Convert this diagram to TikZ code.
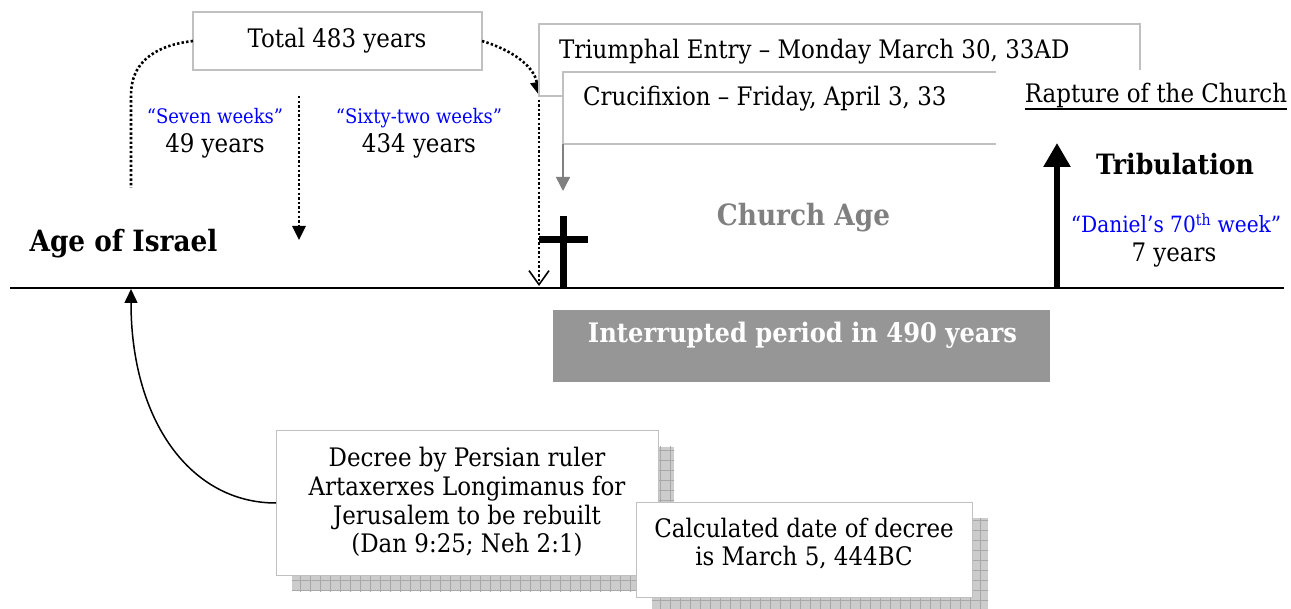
\documentclass[tikz,border=0pt]{standalone}
\usepackage{fontspec}
\setmainfont{DejaVu Serif}[FakeStretch=0.9]
\usetikzlibrary{arrows.meta}
\definecolor{boxgray}{RGB}{192,192,192}
\definecolor{blueq}{RGB}{0,0,255}
\definecolor{churchgray}{RGB}{128,128,128}
\definecolor{bargray}{RGB}{150,150,150}
\definecolor{shadegray}{RGB}{204,204,204}
\definecolor{gridgray}{RGB}{168,168,168}
\begin{document}
\begin{tikzpicture}[x=1pt,y=-1pt,
  maintxt/.style={font=\fontsize{25.5}{30}\selectfont, inner sep=0pt, outer sep=0pt, anchor=base},
  quotetxt/.style={font=\fontsize{20}{24}\selectfont, text=blueq, inner sep=0pt, outer sep=0pt, anchor=base},
  boldtxt/.style={font=\fontsize{29.3}{34}\selectfont\bfseries, inner sep=0pt, outer sep=0pt, anchor=base},
  dotln/.style={line width=2.6pt, dash pattern=on 2.4pt off 2.2pt},
  grayframe/.style={draw=boxgray, line width=1.5pt, fill=white, inner sep=0pt, outer sep=0pt, anchor=north west},
  shadowbox/.style={fill=shadegray, draw=none, inner sep=0pt, outer sep=0pt, anchor=north west},
  headtri/.style={-{Triangle[length=14pt,width=13pt]}}
]
\useasboundingbox (0,0) rectangle (1291,609);

% timeline
\coordinate (tlL) at (10,288);
\coordinate (tlR) at (1284,288);
\draw[line width=2pt] (tlL) -- (tlR);

% Total box
\node[grayframe, minimum width=289pt, minimum height=58pt] (total) at (193,12) {};
\node[maintxt] (totaltxt) at (337,48) {Total 483 years};

% left dotted bracket
\coordinate (lbot) at (131,188);
\draw[dotln] (total.west) .. controls (150,46) and (131,66) .. (131,95) -- (lbot);

% right dotted arrow
\coordinate (rtop) at (539,95);
\coordinate (rbot) at (539,286);
\draw[dotln, -{Triangle[length=13pt,width=13pt]}] (total.east) .. controls (512,50) and (534,66) .. (rtop);
\draw[dotln, -{Straight Barb[length=14pt,width=20pt,line width=1.6pt]}] (rtop) -- (rbot);

% middle dotted arrow
\coordinate (mtop) at (299,96);
\coordinate (mbot) at (299,240);
\draw[dotln, headtri] (mtop) -- (mbot);

% labels
\node[quotetxt] (seven) at (215,124) {“Seven weeks”};
\node[maintxt] (fortynine) at (215,153) {49 years};
\node[quotetxt] (sixty) at (419,124) {“Sixty-two weeks”};
\node[maintxt] (fourthree) at (419,153) {434 years};
\node[boldtxt] (israel) at (123.5,252) {Age of Israel};

% Triumphal & Crucifixion boxes
\node[grayframe, minimum width=601pt, minimum height=72pt] (triumph) at (539,24) {};
\node[grayframe, minimum width=447pt, minimum height=72pt] (cruc) at (563,72) {};
\fill[white] (996,70) rectangle (1291,152);
\node[maintxt, anchor=base west] (triumphtxt) at (559,59) {Triumphal Entry – Monday March 30, 33AD};
\node[maintxt, anchor=base west] (cructxt) at (583,106) {Crucifixion – Friday, April 3, 33};

% gray arrow to cross
\coordinate (crossarr) at (563,191);
\draw[churchgray, line width=1.5pt, -{Triangle[length=14pt,width=14pt]}] (cruc.south west) -- (crossarr);

% cross
\coordinate (crosstop) at (563,216);
\coordinate (crossbot) at (563,288);
\coordinate (crossl) at (539,240);
\coordinate (crossr) at (588,240);
\draw[line width=7pt] (crosstop) -- (crossbot);
\draw[line width=7pt] (crossl) -- (crossr);

\node[boldtxt, text=churchgray] (church) at (803.5,226) {Church Age};

% Rapture
\node[maintxt] (rapture) at (1156,103) {Rapture of the Church};
\draw[line width=1.6pt] ([yshift=-6pt]rapture.base west) -- ([yshift=-6pt]rapture.base east);

% up arrow
\coordinate (upbot) at (1057,288);
\coordinate (uptop) at (1057,143);
\draw[line width=5.5pt, -{Triangle[length=24pt,width=26pt]}] (upbot) -- (uptop);

\node[boldtxt, font=\fontsize{28}{32}\selectfont\bfseries] (trib) at (1175,175) {Tribulation};
\node[quotetxt, font=\fontsize{22.4}{26}\selectfont] (daniel) at (1176,233) {“Daniel’s 70\textsuperscript{th} week”};
\node[maintxt] (seven2) at (1174,262) {7 years};

% interrupted bar
\node[fill=bargray, inner sep=0pt, outer sep=0pt, anchor=north west, minimum width=497pt, minimum height=72pt] (interbar) at (553,310) {};
\node[font=\fontsize{26.9}{31}\selectfont\bfseries, text=white, inner sep=0pt, anchor=base] (intertxt) at (802.5,343) {Interrupted period in 490 years};

% Decree box with shadow
\node[shadowbox, minimum width=382pt, minimum height=144pt] (decsh) at (292,447) {};
\begin{scope}
\clip (292,447) rectangle (674,591);
\draw[gridgray, line width=0.6pt, step=10pt] (290,440) grid (680,600);
\end{scope}
\node[grayframe, line width=1pt, minimum width=382pt, minimum height=144pt] (decree) at (276,431) {};
\node[maintxt] (d1) at (467,467) {Decree by Persian ruler};
\node[maintxt] (d2) at (467,495.5) {Artaxerxes Longimanus for};
\node[maintxt] (d3) at (467,524) {Jerusalem to be rebuilt};
\node[maintxt] (d4) at (467,552.5) {(Dan 9:25; Neh 2:1)};

% Calculated box with shadow
\node[shadowbox, minimum width=336pt, minimum height=95pt] (calcsh) at (652,518) {};
\begin{scope}
\clip (652,518) rectangle (988,613);
\draw[gridgray, line width=0.6pt, step=10pt] (650,510) grid (990,620);
\end{scope}
\node[grayframe, line width=1pt, minimum width=336pt, minimum height=95pt] (calc) at (636,502) {};
\node[maintxt] (c1) at (804,537) {Calculated date of decree};
\node[maintxt] (c2) at (804,565) {is March 5, 444BC};

% curved arrow from decree to timeline
\coordinate (isr) at (131,289);
\draw[line width=1.5pt, headtri] (decree.west) .. controls (190,503) and (131,420) .. (isr);
\end{tikzpicture}
\end{document}
